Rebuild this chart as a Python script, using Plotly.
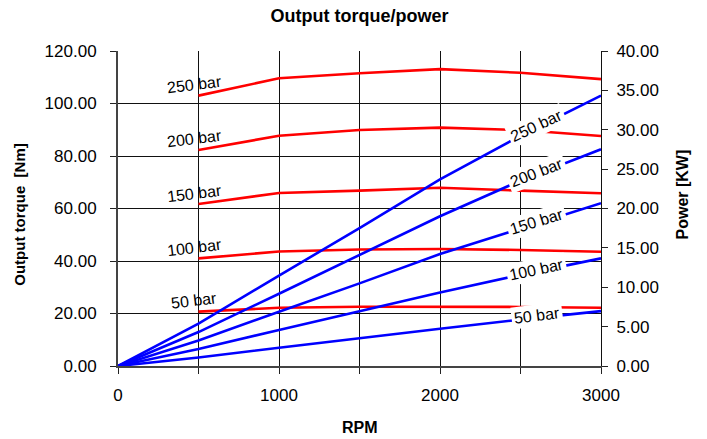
import numpy as np
import plotly.graph_objects as go

# Shaft speed (RPM)
rpm_torque = [500, 1000, 1500, 2000, 2500, 3000]
rpm_power = [0, 500, 1000, 1500, 2000, 2500, 3000]

pressures = ["250 bar", "200 bar", "150 bar", "100 bar", "50 bar"]

# Output torque [Nm] per pressure
torque_250 = [103.0, 109.6, 111.5, 113.1, 111.7, 109.3]
torque_200 = [82.3, 87.7, 89.9, 90.8, 89.9, 87.6]
torque_150 = [61.7, 65.9, 66.8, 67.9, 66.8, 65.8]
torque_100 = [41.0, 43.6, 44.4, 44.6, 44.2, 43.5]
torque_50 = [20.7, 22.2, 22.6, 22.6, 22.5, 22.2]

# Output power [KW] per pressure
power_250 = [0.0, 5.39, 11.48, 17.51, 23.69, 29.24, 34.34]
power_200 = [0.0, 4.31, 9.18, 14.12, 19.02, 23.54, 27.52]
power_150 = [0.0, 3.23, 6.90, 10.49, 14.22, 17.49, 20.67]
power_100 = [0.0, 2.15, 4.57, 6.97, 9.34, 11.57, 13.67]
power_50 = [0.0, 1.08, 2.32, 3.55, 4.73, 5.89, 6.97]

torques = [torque_250, torque_200, torque_150, torque_100, torque_50]
powers = [power_250, power_200, power_150, power_100, power_50]

x_ticks = [0, 500, 1000, 1500, 2000, 2500, 3000]
x_ticktext = ["0", "", "1000", "", "2000", "", "3000"]

FONT = "Liberation Sans, Arial, sans-serif"
RED = "#FF0000"
BLUE = "#0000FF"
TICK_FONT = dict(family=FONT, size=17, color="black")

fig = go.Figure()

for name, t in zip(pressures, torques):
    fig.add_trace(go.Scatter(x=rpm_torque, y=t, mode="lines", name=name,
                             line=dict(color=RED, width=2.6), yaxis="y",
                             showlegend=False))

for name, p in zip(pressures, powers):
    fig.add_trace(go.Scatter(x=rpm_power, y=p, mode="lines", name=name,
                             line=dict(color=BLUE, width=2.6), yaxis="y2",
                             showlegend=False))

annotations = []

# Pressure labels next to the start of the torque curves
for name, t in zip(pressures, torques):
    annotations.append(dict(x=475, y=t[0], xref="x", yref="y", text=name,
                            showarrow=False, textangle=-7, yshift=11,
                            font=dict(family=FONT, size=16, color="black")))

# Pressure labels sitting on the power curves
power_angles = [-25, -21, -17, -12, -7]
label_rpm = 2600
for name, p, ang in zip(pressures, powers, power_angles):
    yv = float(np.interp(label_rpm, rpm_power, p))
    annotations.append(dict(x=label_rpm, y=yv, xref="x", yref="y2", text=name,
                            showarrow=False, textangle=ang, yshift=2,
                            bgcolor="white", borderpad=2,
                            font=dict(family=FONT, size=16, color="black")))

# Axis titles
annotations.append(dict(x=0.5, y=0, xref="paper", yref="paper", yshift=-61,
                        text="<b>RPM</b>", showarrow=False, yanchor="middle",
                        font=dict(family=FONT, size=16, color="black")))
annotations.append(dict(x=-0.203, y=0.48, xref="paper", yref="paper",
                        text="<b>Output torque  [Nm]</b>", showarrow=False,
                        textangle=-90, xanchor="center", yanchor="middle",
                        font=dict(family=FONT, size=15, color="black")))
annotations.append(dict(x=1.168, y=0.545, xref="paper", yref="paper",
                        text="<b>Power [KW]</b>", showarrow=False,
                        textangle=-90, xanchor="center", yanchor="middle",
                        font=dict(family=FONT, size=16, color="black")))

fig.update_layout(
    width=707, height=439, autosize=False,
    margin=dict(l=118, r=106, t=51, b=73, pad=0),
    paper_bgcolor="white", plot_bgcolor="white",
    font=dict(family=FONT, size=16, color="black"),
    title=dict(text="<b>Output torque/power</b>", x=0.5, xref="paper",
               y=1 - 16 / 439, yref="container", yanchor="middle",
               font=dict(family=FONT, size=18, color="black")),
    xaxis=dict(range=[0, 3000], tickvals=x_ticks, ticktext=x_ticktext,
               showgrid=True, gridcolor="#111111", gridwidth=1,
               zeroline=False, showline=True, linecolor="#444444", linewidth=2,
               ticks="outside", ticklen=6, tickcolor="#222222",
               ticklabelstandoff=7, tickfont=TICK_FONT),
    yaxis=dict(range=[0, 120], dtick=20, tickformat=".2f",
               showgrid=True, gridcolor="#111111", gridwidth=1,
               zeroline=False, showline=True, linecolor="#444444", linewidth=2,
               ticks="outside", ticklen=6, tickcolor="#222222",
               ticklabelstandoff=10, tickfont=TICK_FONT),
    yaxis2=dict(range=[0, 40], dtick=5, tickformat=".2f", overlaying="y",
                side="right", showgrid=False, zeroline=False,
                showline=True, linecolor="#111111", linewidth=1,
                ticks="outside", ticklen=6, tickcolor="#222222",
                ticklabelstandoff=5, tickfont=TICK_FONT),
    annotations=annotations,
)

fig.write_html("out.html")
